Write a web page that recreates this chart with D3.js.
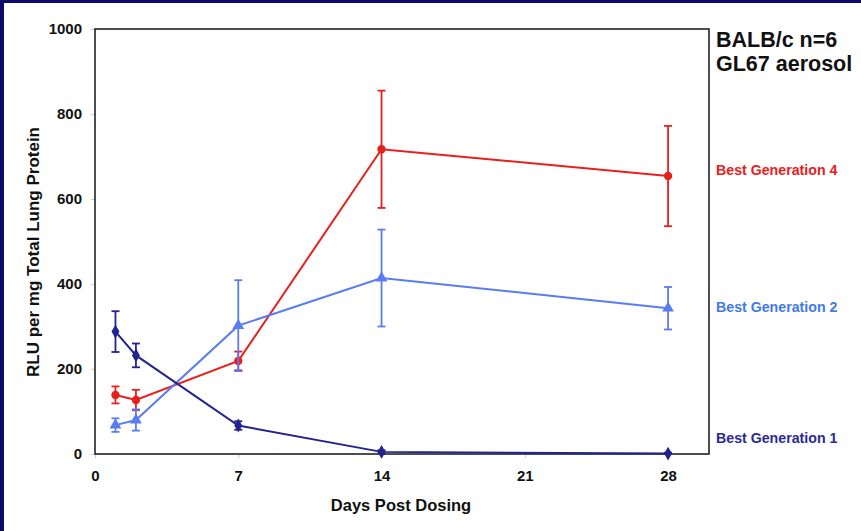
<!DOCTYPE html>
<html>
<head>
<meta charset="utf-8">
<script src="https://cdn.jsdelivr.net/npm/d3@7"></script>
<style>
  body { margin: 0; background: #fff; }
  svg { display: block; font-family: "Liberation Sans", Arial, sans-serif; }
</style>
</head>
<body>
<script>
// days on x, RLU per mg on y
var days = [1, 2, 7, 14, 28];
var xTicks = [0, 7, 14, 21, 28];
var yTicks = [0, 200, 400, 600, 800, 1000];

var gen4 = [139, 127, 219, 717, 654];
var gen4Err = [20, 24, 22, 138, 118];
var gen2 = [68, 80, 302, 414, 343];
var gen2Err = [16, 25, 107, 114, 50];
var gen1 = [288, 232, 67, 5, 1];
var gen1Err = [48, 28, 10, 4, 2];

var w = 861, h = 531;
var svg = d3.select("body").append("svg").attr("width", w).attr("height", h);

// dark slide frame at top and left
svg.append("rect").attr("x", 0).attr("y", 0).attr("width", w).attr("height", 3).attr("fill", "#0b0b6b");
svg.append("rect").attr("x", 0).attr("y", 0).attr("width", 4).attr("height", h).attr("fill", "#0b0b6b");

var pLeft = 95, pRight = 709, pTop = 29, pBottom = 454;
var x = d3.scaleLinear().domain([0, 30]).range([pLeft, pRight]);
var y = d3.scaleLinear().domain([0, 1000]).range([pBottom, pTop]);

// axes
var xAxis = svg.append("g").attr("transform", "translate(0," + pBottom + ")")
  .call(d3.axisBottom(x).tickValues(xTicks).tickSize(4).tickPadding(12));
var yAxis = svg.append("g").attr("transform", "translate(" + pLeft + ",0)")
  .call(d3.axisLeft(y).tickValues(yTicks).tickFormat(d3.format("d")).tickSize(4).tickPadding(9));
[xAxis, yAxis].forEach(function(a) {
  a.select(".domain").remove();
  a.selectAll("line").attr("stroke", "#ccc");
  a.selectAll("text").attr("font-size", 15).attr("font-weight", "bold")
    .attr("fill", "#111").attr("font-family", "Liberation Sans, Arial, sans-serif");
});

// plot frame
svg.append("rect").attr("x", pLeft).attr("y", pTop)
  .attr("width", pRight - pLeft).attr("height", pBottom - pTop)
  .attr("fill", "none").attr("stroke", "#222").attr("stroke-width", 1.6);

var series = [
  {vals: gen4, err: gen4Err, color: "#e8201c", sym: d3.symbolCircle, size: 55},
  {vals: gen2, err: gen2Err, color: "#5a7cf2", sym: d3.symbolTriangle, size: 60},
  {vals: gen1, err: gen1Err, color: "#23238f", sym: d3.symbolDiamond, size: 55}
];

var line = d3.line().x(function(d) { return x(d[0]); }).y(function(d) { return y(d[1]); });

series.forEach(function(s) {
  var pts = days.map(function(d, i) { return [d, s.vals[i], s.err[i]]; });
  var g = svg.append("g");
  // error bars
  pts.forEach(function(p) {
    var lo = y(Math.max(0, p[1] - p[2])), hi = y(p[1] + p[2]), cx = x(p[0]);
    g.append("line").attr("x1", cx).attr("x2", cx).attr("y1", lo).attr("y2", hi)
      .attr("stroke", s.color).attr("stroke-width", 1.8);
    [lo, hi].forEach(function(yy) {
      g.append("line").attr("x1", cx - 4).attr("x2", cx + 4).attr("y1", yy).attr("y2", yy)
        .attr("stroke", s.color).attr("stroke-width", 1.8);
    });
  });
  g.append("path").attr("d", line(pts)).attr("fill", "none")
    .attr("stroke", s.color).attr("stroke-width", 2);
  g.selectAll("path.m").data(pts).enter().append("path").attr("class", "m")
    .attr("transform", function(p) { return "translate(" + x(p[0]) + "," + y(p[1]) + ")"; })
    .attr("d", d3.symbol().type(s.sym).size(s.size))
    .attr("fill", s.color);
});

// axis titles
svg.append("text").attr("x", 401).attr("y", 511).attr("text-anchor", "middle")
  .attr("font-size", 16.5).attr("font-weight", "bold").attr("fill", "#111").text("Days Post Dosing");
svg.append("text").attr("transform", "translate(39,252) rotate(-90)").attr("text-anchor", "middle")
  .attr("font-size", 17).attr("font-weight", "bold").attr("fill", "#111").text("RLU per mg Total Lung Protein");

// right-hand notes
svg.append("text").attr("x", 716).attr("y", 47).attr("font-size", 21.5).attr("font-weight", "bold")
  .attr("fill", "#111").text("BALB/c n=6");
svg.append("text").attr("x", 716).attr("y", 71).attr("font-size", 21.5).attr("font-weight", "bold")
  .attr("fill", "#111").text("GL67 aerosol");

var labels = [
  {t: "Best Generation 4", yy: 175, c: "#e8201c"},
  {t: "Best Generation 2", yy: 312, c: "#3f7ae6"},
  {t: "Best Generation 1", yy: 443, c: "#2a2a96"}
];
svg.selectAll("text.lab").data(labels).enter().append("text").attr("class", "lab")
  .attr("x", 716).attr("y", function(d) { return d.yy; })
  .attr("font-size", 14.2).attr("font-weight", "bold")
  .attr("fill", function(d) { return d.c; }).text(function(d) { return d.t; });
</script>
</body>
</html>
